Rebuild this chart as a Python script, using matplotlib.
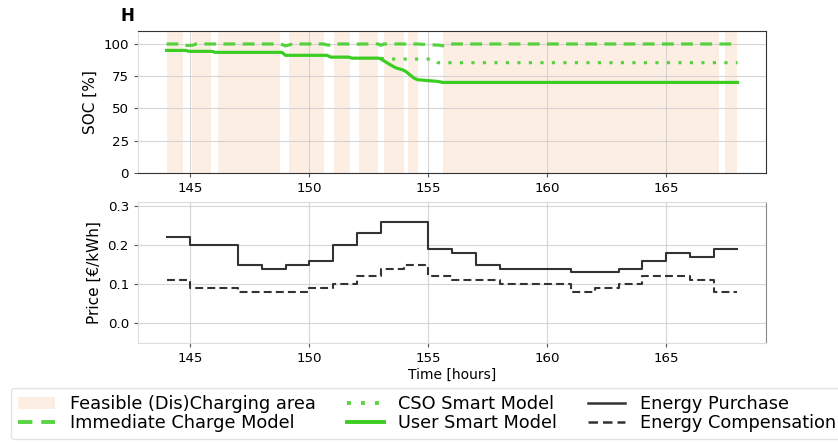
import matplotlib
matplotlib.use("Agg")
import matplotlib.pyplot as plt
from matplotlib.patches import Patch
from matplotlib.lines import Line2D

# Feasible (dis)charging windows [start, end] in hours
feasible_windows = [
    (144.00, 144.70), (145.07, 145.87), (146.16, 148.78), (149.16, 150.63),
    (151.02, 151.72), (152.11, 152.87), (153.12, 153.99), (154.13, 154.55),
    (155.62, 167.24), (167.48, 168.00),
]

# State of charge [%] – immediate charging
t_immediate = [144.0, 144.7, 144.85, 145.1, 145.25, 148.8, 149.0, 149.2, 149.3,
               150.6, 150.8, 151.0, 151.7, 151.9, 152.1, 152.9, 153.0, 153.15,
               154.0, 154.1, 154.2, 154.55, 155.0, 155.5, 155.6, 155.75, 168.0]
soc_immediate = [100, 100, 98.8, 99, 100, 100, 98.5, 99.5, 100,
                 100, 99, 100, 100, 99.5, 100, 100, 99, 100,
                 100, 99.5, 100, 100, 99.5, 99, 98.5, 100, 100]

# State of charge [%] – user smart model
t_user = [144.0, 144.8, 144.95, 145.9, 146.05, 148.85, 149.0, 150.75, 150.9,
          151.65, 151.8, 152.9, 153.0, 153.45, 153.65, 153.9, 154.05, 154.4,
          154.55, 155.05, 155.4, 155.6, 168.0]
soc_user = [95, 95, 94.3, 94.3, 93.5, 93.5, 91.2, 91.2, 89.8,
            89.8, 89, 89, 88.5, 83.4, 81.4, 80.1, 78.8, 73.6,
            72.3, 71.5, 71, 70.2, 70.2]

# State of charge [%] – CSO smart model
t_cso = [153.0, 153.2, 155.2, 155.4, 168.0]
soc_cso = [89, 88.3, 88.3, 85.5, 85.5]

# Hourly prices [€/kWh]
hours = list(range(144, 169))
price_purchase = [0.22, 0.20, 0.20, 0.15, 0.14, 0.15, 0.16, 0.20, 0.23, 0.26,
                  0.26, 0.19, 0.18, 0.15, 0.14, 0.14, 0.14, 0.13, 0.13, 0.14,
                  0.16, 0.18, 0.17, 0.19]
price_compensation = [0.11, 0.09, 0.09, 0.08, 0.08, 0.08, 0.09, 0.10, 0.12, 0.14,
                      0.15, 0.12, 0.11, 0.11, 0.10, 0.10, 0.10, 0.08, 0.09, 0.10,
                      0.12, 0.12, 0.11, 0.08]

GREEN = "#3ccd22"
DARK = "#333333"
SHADE = "#fdeee4"
LIGHT = "#dddddd"
LW_SOC = 2.3
LW_PRICE = 1.5
DASH_SOC = (0, (3.7, 2.3))
DOT_SOC = (0, (1, 2.6))
DASH_PRICE = (0, (3.8, 2.0))

plt.rcParams["font.family"] = "DejaVu Sans"
fig = plt.figure(figsize=(8.38, 4.45), dpi=100)
ax1 = fig.add_axes([0.1647, 0.6112, 0.7494, 0.3190])
ax2 = fig.add_axes([0.1647, 0.2292, 0.7494, 0.3169])

# --- SOC panel ---
for start, end in feasible_windows:
    ax1.axvspan(start, end, color=SHADE, lw=0, zorder=0)
ax1.plot(t_immediate, soc_immediate, color=GREEN, ls=DASH_SOC, lw=LW_SOC, alpha=0.85, zorder=3)
ax1.plot(t_cso, soc_cso, color=GREEN, ls=DOT_SOC, lw=LW_SOC, alpha=0.85, zorder=3)
ax1.plot(t_user, soc_user, color=GREEN, lw=LW_SOC, zorder=4)
ax1.set_ylim(0, 110)
ax1.set_yticks([0, 25, 50, 75, 100])
ax1.set_ylabel("SOC [%]", fontsize=11)
ax1.grid(True, color="#cccccc", lw=0.8, alpha=0.8, zorder=1)
ax1.set_axisbelow(True)
for side in ("top", "right", "bottom"):
    ax1.spines[side].set_color(DARK)
ax1.spines["left"].set_color(LIGHT)

# --- price panel ---
ax2.step(hours, price_purchase + [price_purchase[-1]], where="post", color=DARK, lw=LW_PRICE)
ax2.step(hours, price_compensation + [price_compensation[-1]], where="post",
         color=DARK, lw=LW_PRICE, ls=DASH_PRICE)
ax2.set_ylim(-0.05, 0.31)
ax2.set_yticks([0.0, 0.1, 0.2, 0.3])
ax2.set_ylabel("Price [€/kWh]", fontsize=11)
ax2.set_xlabel("Time [hours]", fontsize=10, labelpad=2)
ax2.grid(True, color="#cccccc", lw=0.8, alpha=0.8)
ax2.set_axisbelow(True)
for side in ("left", "top", "bottom"):
    ax2.spines[side].set_color(LIGHT)
ax2.spines["right"].set_color("#888888")

for ax in (ax1, ax2):
    ax.set_xlim(142.8, 169.2)
    ax.set_xticks([145, 150, 155, 160, 165])
    ax.tick_params(labelsize=9.6, length=3, color="#555555")

fig.text(0.152, 0.965, "H", fontsize=12, fontweight="bold", ha="center", va="center")

handles = [
    Patch(facecolor=SHADE, edgecolor="none", label="Feasible (Dis)Charging area"),
    Line2D([], [], color=GREEN, ls=DASH_SOC, lw=LW_SOC + 0.5, alpha=0.85, label="Immediate Charge Model"),
    Line2D([], [], color=GREEN, ls=DOT_SOC, lw=LW_SOC + 0.5, alpha=0.85, label="CSO Smart Model"),
    Line2D([], [], color=GREEN, lw=LW_SOC + 0.5, label="User Smart Model"),
    Line2D([], [], color=DARK, lw=LW_PRICE + 0.3, label="Energy Purchase"),
    Line2D([], [], color=DARK, lw=LW_PRICE + 0.3, ls=DASH_PRICE, label="Energy Compensation"),
]
fig.legend(handles=handles, ncol=3, loc="upper left", bbox_to_anchor=(0.013, 0.128),
           fontsize=12.8, frameon=True, fancybox=True, edgecolor="#dddddd",
           handlelength=2.1, handletextpad=0.8, columnspacing=1.75,
           labelspacing=0.05, borderaxespad=0)

fig.savefig("out.png", dpi=100)
